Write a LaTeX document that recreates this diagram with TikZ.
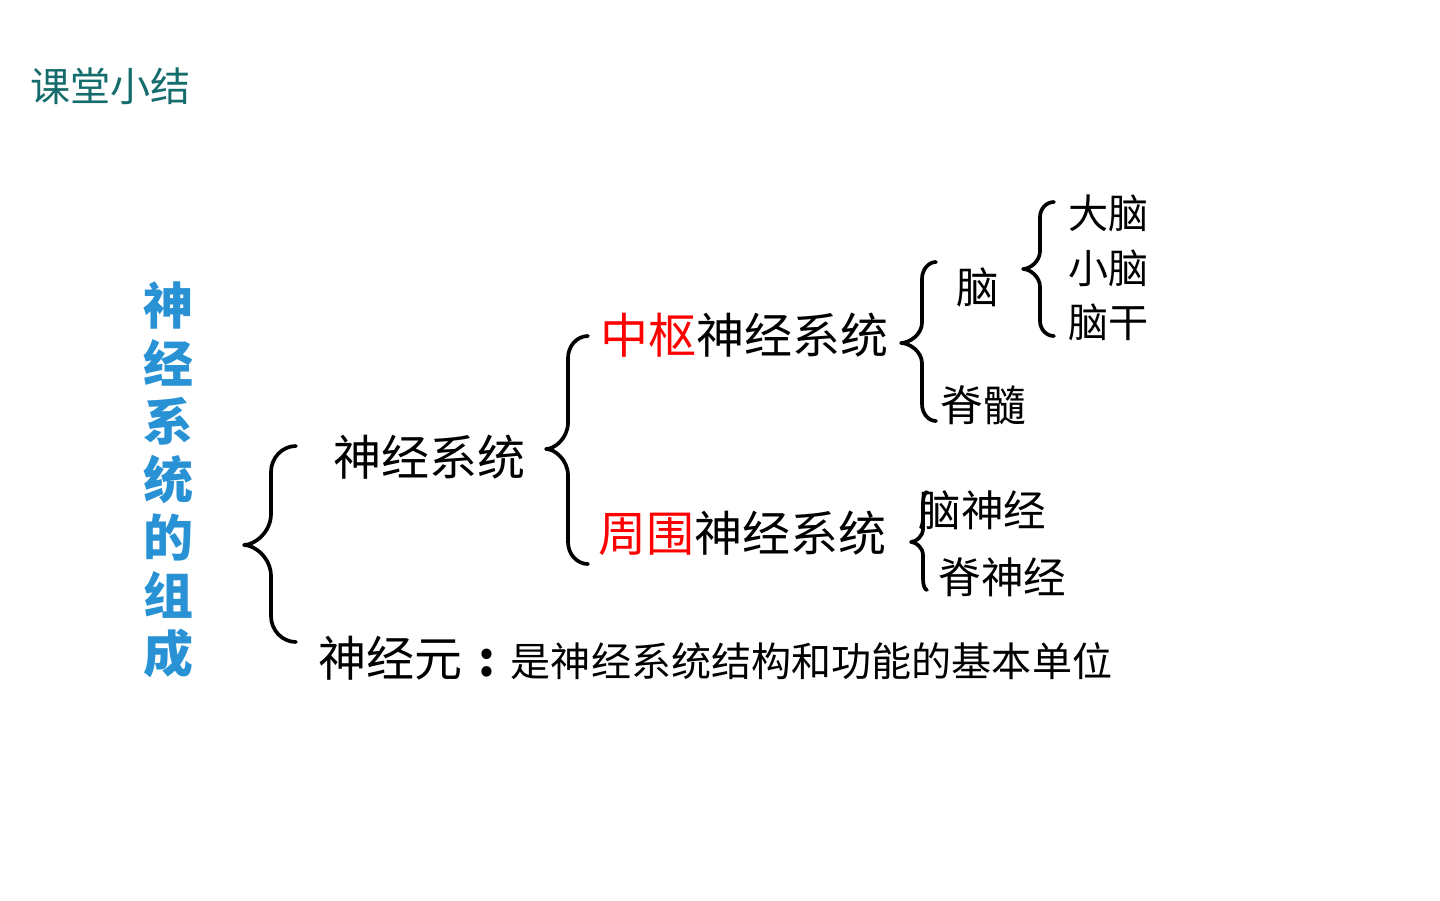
\documentclass[tikz,border=0pt]{standalone}
\usepackage{fontspec}
\setmainfont{Noto Sans CJK SC}
\usepackage{xcolor}
\usetikzlibrary{positioning}
\definecolor{titleteal}{RGB}{20,108,108}
\definecolor{sideblue}{RGB}{40,146,212}
% left curly brace: end x, stem x, tip x, top y, tip y, bottom y, curl
\newcommand{\curlybrace}[7]{%
  \draw[brc] (#1,#4) .. controls ({#2+0.45*(#1-#2)},#4) and (#2,#4+0.45*#7) .. (#2,#4+#7)
    -- (#2,#5-1.2*#7)
    .. controls (#2,#5-0.5*#7) and ({#3+0.4*(#2-#3)},#5) .. (#3,#5)
    .. controls ({#3+0.4*(#2-#3)},#5) and (#2,#5+0.5*#7) .. (#2,#5+1.2*#7)
    -- (#2,#6-#7) .. controls (#2,#6-0.45*#7) and ({#2+0.45*(#1-#2)},#6) .. (#1,#6);}

\begin{document}
\begin{tikzpicture}[x=0.01cm,y=-0.01cm,
  brc/.style={line width=1.05pt,line cap=round,line join=round},
  txt/.style={inner sep=0pt,anchor=west},
  big/.style={txt,font=\fontsize{13.66pt}{16pt}\selectfont},
  mid/.style={txt,font=\fontsize{12.1pt}{14pt}\selectfont},
  sml/.style={txt,font=\fontsize{11.4pt}{13pt}\selectfont}]
\useasboundingbox (0,0) rectangle (1440,900);
\node[sml,text=titleteal] (title) at (30,86) {课堂小结};
\node[inner sep=0pt,align=center,text=sideblue,
  font=\fontsize{14.2pt}{16.5pt}\selectfont\bfseries] (side) at (168,480)
  {神\\经\\系\\统\\的\\组\\成};
% first level
\node[big] (ns) at (333,457) {神经系统};
\node[big] (neuron) at (318,658) {神经元\makebox[1em][c]{\bfseries :}{\fontsize{11.4pt}{13pt}\selectfont 是神经系统结构和功能的基本单位}};
\curlybrace{296}{271}{244}{446}{545}{642}{26}
% second level
\node[big] (cns) at (600,335) {\textcolor{red}{中枢}神经系统};
\node[big] (pns) at (598,533) {\textcolor{red}{周围}神经系统};
\curlybrace{588}{568}{546}{336}{449}{564}{22}
% central
\node[mid] (brain) at (956,287) {脑};
\node[mid] (cord) at (940,405) {脊髓};
\curlybrace{936}{922}{901}{262}{343}{421}{17}
\node[sml] (cere) at (1068,213) {大脑};
\node[sml] (cbl) at (1068,268) {小脑};
\node[sml] (stem) at (1068,322) {脑干};
\curlybrace{1054}{1040}{1023}{202}{269}{336}{15}
% peripheral
\node[mid] (cn) at (918,510) {脑神经};
\node[mid] (sn) at (938,577) {脊神经};
\curlybrace{927}{923}{911}{492}{542}{590}{11}
\end{tikzpicture}
\end{document}
